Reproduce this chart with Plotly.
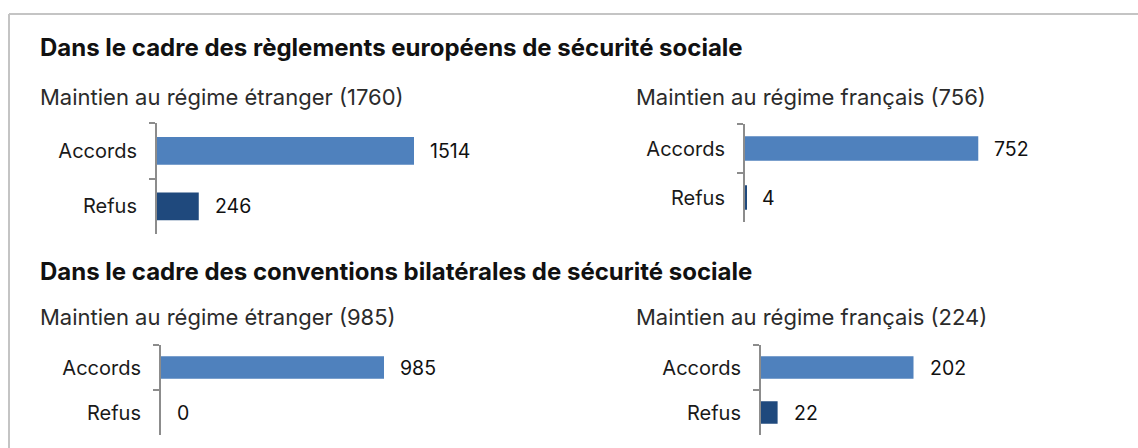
import plotly.graph_objects as go

# ---- data ----
categories = ["Accords", "Refus"]
eu_etranger = [1514, 246]
eu_francais = [752, 4]
bi_etranger = [985, 0]
bi_francais = [202, 22]

section_titles = [
    "Dans le cadre des règlements européens de sécurité sociale",
    "Dans le cadre des conventions bilatérales de sécurité sociale",
]
panel_titles = [
    "Maintien au régime étranger (1760)",
    "Maintien au régime français (756)",
    "Maintien au régime étranger (985)",
    "Maintien au régime français (224)",
]

# ---- layout / style ----
W, H = 1138, 448
FONT = "Inter, Lato, sans-serif"
bar_colors = ["#4F81BD", "#1F497D"]
axis_gray = "#8C8C8C"

# pixel geometry of each panel: left edge, right edge, top, bottom, px per unit
panels = [
    dict(values=eu_etranger, x0=157, x1=560, y0=123, y1=234, ppu=0.16975),
    dict(values=eu_francais, x0=745, x1=1120, y0=124, y1=222, ppu=0.3102),
    dict(values=bi_etranger, x0=161, x1=560, y0=345, y1=435, ppu=0.2264),
    dict(values=bi_francais, x0=761, x1=1120, y0=345, y1=435, ppu=0.755),
]

fig = go.Figure()
annotations = []
layout_axes = {}

for i, p in enumerate(panels, start=1):
    xa = "x" if i == 1 else f"x{i}"
    ya = "y" if i == 1 else f"y{i}"
    fig.add_trace(go.Bar(
        x=p["values"], y=categories, orientation="h",
        marker=dict(color=bar_colors, line=dict(width=0)),
        width=0.5, xaxis=xa, yaxis=ya, showlegend=False,
        hoverinfo="skip",
    ))
    rmax = (p["x1"] - p["x0"]) / p["ppu"]
    xkey = "xaxis" if i == 1 else f"xaxis{i}"
    ykey = "yaxis" if i == 1 else f"yaxis{i}"
    layout_axes[xkey] = dict(
        domain=[p["x0"] / W, p["x1"] / W], range=[0, rmax],
        anchor=ya, showline=False, showticklabels=False, showgrid=False,
        zeroline=False, fixedrange=True,
    )
    layout_axes[ykey] = dict(
        domain=[1 - p["y1"] / H, 1 - p["y0"] / H], anchor=xa,
        type="category", autorange="reversed", tickson="boundaries",
        ticks="outside", ticklen=6, tickwidth=2, tickcolor=axis_gray,
        showline=True, linecolor=axis_gray, linewidth=2, showgrid=False,
        zeroline=False, ticklabelstandoff=14,
        tickfont=dict(family=FONT, size=20, color="#1a1a1a"),
    )
    for v, c in zip(p["values"], categories):
        annotations.append(dict(
            x=v, y=c, xref=xa, yref=ya, text=str(v), showarrow=False,
            xanchor="left", yanchor="middle", xshift=14,
            font=dict(family=FONT, size=19.5, color="#111111"),
        ))

# section titles
for t, y in zip(section_titles, [48, 271]):
    annotations.append(dict(
        x=38 / W, y=1 - y / H, xref="paper", yref="paper", text=f"<b>{t}</b>",
        showarrow=False, xanchor="left", yanchor="middle",
        font=dict(family=FONT, size=24, color="#111111"),
    ))
# panel titles
for t, (x, y) in zip(panel_titles, [(38, 97), (634, 97), (38, 317), (634, 317)]):
    annotations.append(dict(
        x=x / W, y=1 - y / H, xref="paper", yref="paper", text=t,
        showarrow=False, xanchor="left", yanchor="middle",
        font=dict(family=FONT, size=22, color="#2b2b2b"),
    ))

shapes = [
    dict(type="line", xref="paper", yref="paper", x0=9 / W, x1=1.01,
         y0=1 - 14 / H, y1=1 - 14 / H, line=dict(color="#C4C4C4", width=2)),
    dict(type="line", xref="paper", yref="paper", x0=9 / W, x1=9 / W,
         y0=1 - 14 / H, y1=-0.01, line=dict(color="#C4C4C4", width=2)),
]

fig.update_layout(
    width=W, height=H, margin=dict(l=0, r=0, t=0, b=0),
    paper_bgcolor="white", plot_bgcolor="white",
    font=dict(family=FONT), annotations=annotations, shapes=shapes,
    bargap=0.5, **layout_axes,
)

fig.write_html(
    "out.html",
    config={"displayModeBar": False},
    post_script="document.body.style.margin='0';document.body.style.overflow='hidden';",
)
